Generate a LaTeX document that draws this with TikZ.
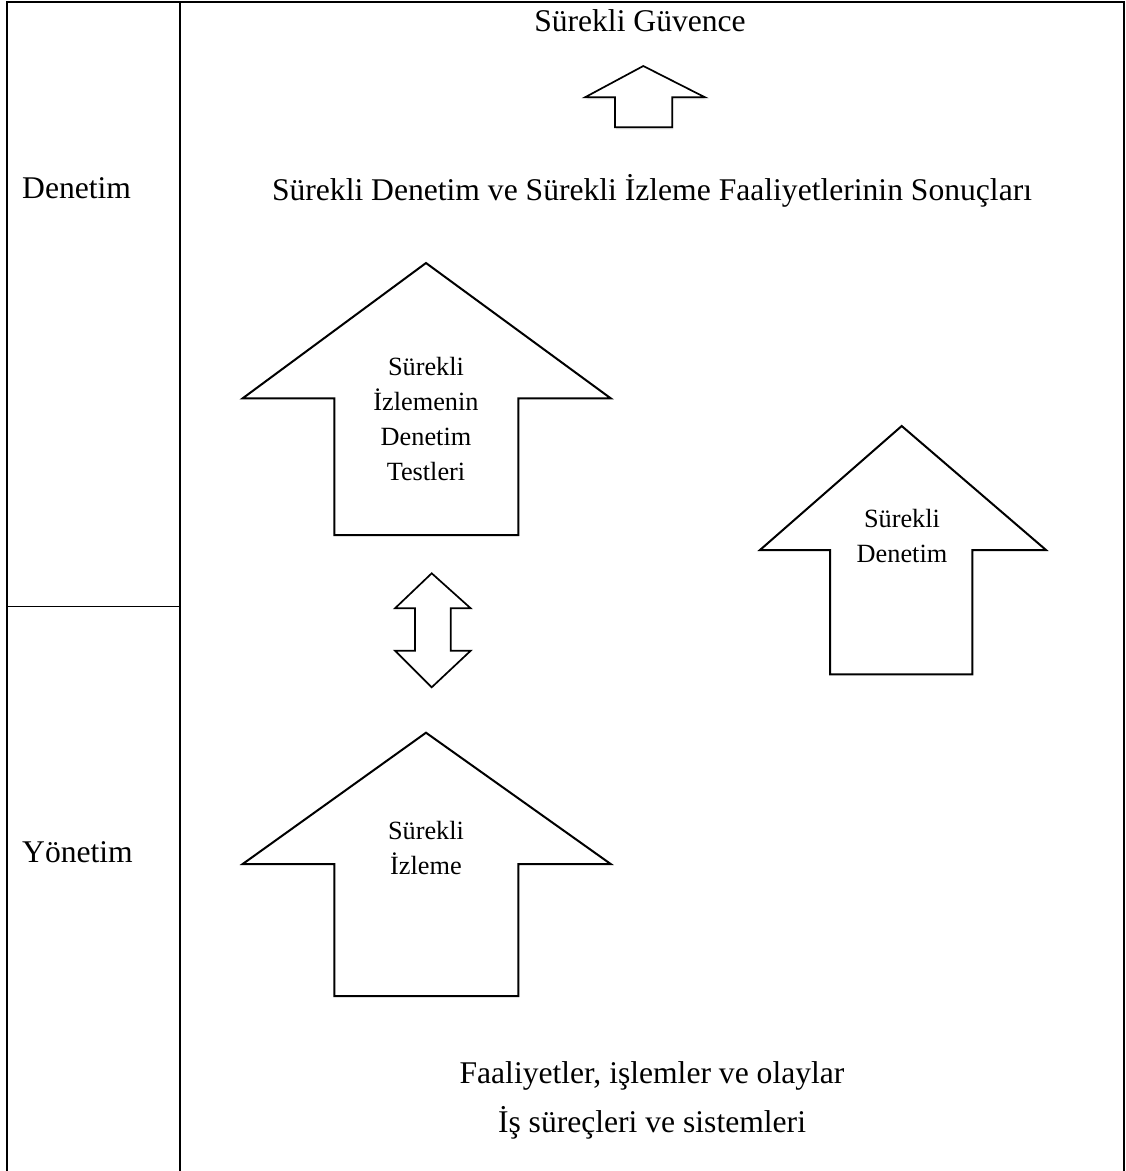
\documentclass[tikz,border=0pt]{standalone}
\usepackage{fontspec}
\setmainfont{Liberation Serif}
\usetikzlibrary{shadows}
\begin{document}
\begin{tikzpicture}[x=1pt,y=-1pt,
  frameline/.style={line width=1.7pt},
  bigarrow/.style={draw,line width=2pt,line join=miter,fill=white},
  smallarrow/.style={draw,line width=1.7pt,line join=miter,fill=white},
  maintext/.style={inner sep=0pt,anchor=base,font=\fontsize{31.6}{40}\selectfont},
  arrowtext/.style={inner sep=0pt,anchor=base,align=center,font=\fontsize{26.3}{35}\selectfont}]
\useasboundingbox (0,0) rectangle (1126,1171);

% table frame
\draw[frameline] (7,1171) -- (7,2) -- (1124,2) -- (1124,1171);
\draw[frameline] (180,2) -- (180,1171);
\draw[line width=1.4pt] (7,606.5) -- (180,606.5);

% row labels
\node[maintext,anchor=base west] (den) at (22,198) {Denetim};
\node[maintext,anchor=base west] (yon) at (22,862) {Yönetim};

% top texts
\node[maintext] (guv) at (640,31) {Sürekli Güvence};
\node[maintext] (son) at (652,200) {Sürekli Denetim ve Sürekli İzleme Faaliyetlerinin Sonuçları};

% small arrow to assurance
\path[smallarrow,drop shadow={opacity=0.2,shadow xshift=1pt,shadow yshift=-2pt}]
  (643.3,66) -- (705,97.3) -- (672.3,97.3) -- (672.3,127.3) -- (615,127.3)
  -- (615,97.3) -- (585,97.3) -- cycle;

% audit tests of monitoring (base anchor sits on the last line)
\path[bigarrow] (426,263) -- (610.7,398.3) -- (518.3,398.3) -- (518.3,535)
  -- (334.3,535) -- (334.3,398.3) -- (242.7,398.3) -- cycle;
\node[arrowtext] (t1) at (426,480) {Sürekli\\İzlemenin\\Denetim\\Testleri};

% continuous audit
\path[bigarrow] (901.7,426) -- (1046,550) -- (972.3,550) -- (972.3,674.3)
  -- (830,674.3) -- (830,550) -- (760,550) -- cycle;
\node[arrowtext] (t2) at (902,562) {Sürekli\\Denetim};

% continuous monitoring
\path[bigarrow] (426,732.7) -- (610.7,864) -- (518.3,864) -- (518.3,996)
  -- (334.3,996) -- (334.3,864) -- (242.7,864) -- cycle;
\node[arrowtext] (t3) at (426,874) {Sürekli\\İzleme};

% two-way arrow
\path[smallarrow] (431.7,573.3) -- (470.7,608.3) -- (450.7,608.3) -- (450.7,650.7)
  -- (470.7,650.7) -- (431.7,687.3) -- (395,650.7) -- (415,650.7)
  -- (415,608.3) -- (395,608.3) -- cycle;

% bottom texts
\node[maintext] (act) at (652,1083) {Faaliyetler, işlemler ve olaylar};
\node[maintext] (proc) at (652,1132) {İş süreçleri ve sistemleri};
\end{tikzpicture}
\end{document}
